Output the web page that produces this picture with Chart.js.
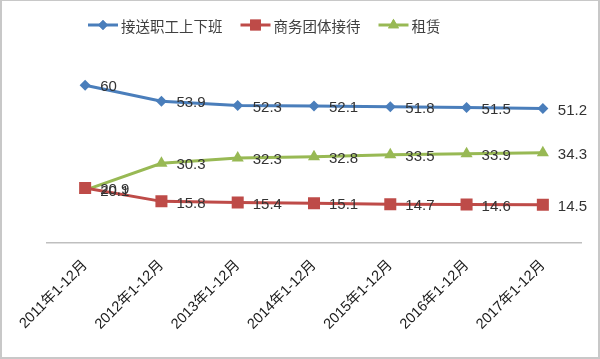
<!DOCTYPE html>
<html lang="zh">
<head>
    <meta charset="UTF-8">
    <title>接送职工上下班 / 商务团体接待 / 租赁</title>
    <script src="https://cdn.jsdelivr.net/npm/chart.js"></script>
    <style>
        html, body { margin: 0; padding: 0; background: #fff; }
        .frame {
            width: 600px; height: 359px;
            box-sizing: border-box;
            border: 2px solid #c8c8c8;
            border-top-width: 1px;
        }
        #rentChart { display: block; }
    </style>
</head>
<body>
    <div class="frame">
        <canvas id="rentChart" width="596" height="356"></canvas>
    </div>

    <script>
        // categories and series
        const years = ['2011年1-12月', '2012年1-12月', '2013年1-12月', '2014年1-12月',
                       '2015年1-12月', '2016年1-12月', '2017年1-12月'];
        const commute = [60, 53.9, 52.3, 52.1, 51.8, 51.5, 51.2];
        const business = [20.9, 15.8, 15.4, 15.1, 14.7, 14.6, 14.5];
        const leasing = [20.1, 30.3, 32.3, 32.8, 33.5, 33.9, 34.3];

        const BLUE = '#4a7ebb';
        const RED = '#be4b48';
        const GREEN = '#98b954';

        // value labels to the right of every point
        const valueLabels = {
            id: 'valueLabels',
            afterDatasetsDraw(chart) {
                const ctx = chart.ctx;
                ctx.save();
                ctx.font = '15px "Liberation Sans", Arial, sans-serif';
                ctx.fillStyle = '#333';
                ctx.textBaseline = 'middle';
                chart.data.datasets.forEach((ds, i) => {
                    chart.getDatasetMeta(i).data.forEach((pt, j) => {
                        ctx.fillText(String(ds.data[j]), pt.x + 15, pt.y + 2);
                    });
                });
                ctx.restore();
            }
        };

        // Excel style legend: short line with the marker in its middle, then the name
        const lineLegend = {
            id: 'lineLegend',
            afterDraw(chart) {
                const ctx = chart.ctx;
                const y = 24;
                let x = 86;
                ctx.save();
                ctx.font = '14.5px "Noto Sans CJK SC", sans-serif';
                ctx.textBaseline = 'middle';
                chart.data.datasets.forEach((ds) => {
                    ctx.strokeStyle = ds.borderColor;
                    ctx.lineWidth = 3;
                    ctx.beginPath();
                    ctx.moveTo(x, y); ctx.lineTo(x + 30, y);
                    ctx.stroke();
                    ctx.fillStyle = ds.borderColor;
                    Chart.helpers.drawPoint(ctx, {
                        pointStyle: ds.pointStyle,
                        radius: ds.pointRadius * 0.9,
                        borderWidth: 0
                    }, x + 15, y);
                    ctx.fill();
                    x += 33;
                    ctx.fillStyle = '#404040';
                    ctx.fillText(ds.label, x, y + 1);
                    x += ctx.measureText(ds.label).width + 18;
                });
                ctx.restore();
            }
        };

        const ctx = document.getElementById('rentChart').getContext('2d');
        new Chart(ctx, {
            type: 'line',
            data: {
                labels: years,
                datasets: [
                    {
                        label: '接送职工上下班',
                        data: commute,
                        borderColor: BLUE, backgroundColor: BLUE,
                        pointStyle: 'rectRot', pointRadius: 5.5,
                        pointBorderWidth: 0,
                        borderWidth: 3
                    },
                    {
                        label: '商务团体接待',
                        data: business,
                        borderColor: RED, backgroundColor: RED,
                        pointStyle: 'rect', pointRadius: 8.5,
                        pointBorderWidth: 0,
                        borderWidth: 3
                    },
                    {
                        label: '租赁',
                        data: leasing,
                        borderColor: GREEN, backgroundColor: GREEN,
                        pointStyle: 'triangle', pointRadius: 7,
                        pointBorderWidth: 0,
                        borderWidth: 3
                    }
                ]
            },
            options: {
                responsive: false,
                animation: false,
                layout: { padding: { top: 58, left: 45, right: 17, bottom: 10 } },
                plugins: {
                    tooltip: { enabled: false },
                    legend: { display: false }
                },
                scales: {
                    x: {
                        offset: true,
                        grid: { display: false, drawTicks: false },
                        border: { color: '#bfbfbf', width: 1.5 },
                        ticks: {
                            minRotation: 45, maxRotation: 45,
                            padding: 14,
                            color: '#1a1a1a',
                            font: { family: '"Liberation Sans", "Noto Sans CJK SC", sans-serif', size: 14.5 }
                        }
                    },
                    y: {
                        display: false,
                        min: 0,
                        max: 70
                    }
                }
            },
            plugins: [valueLabels, lineLegend]
        });
    </script>
</body>
</html>
